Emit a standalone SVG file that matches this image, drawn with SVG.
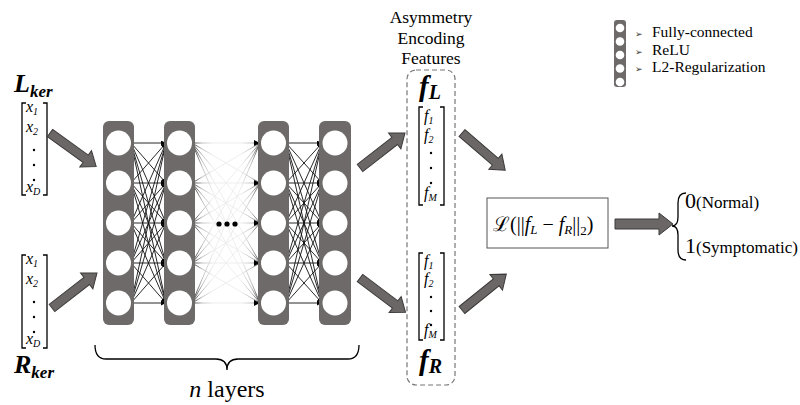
<svg xmlns="http://www.w3.org/2000/svg" width="800" height="405" viewBox="0 0 800 405">
<defs>
<style>
.serif{font-family:"Liberation Serif","DejaVu Serif",serif;fill:#000}
.it{font-style:italic}
.bi{font-style:italic;font-weight:bold}
.layer{fill:#6e6a6a}
.node{fill:#fff}
.blk{fill:#6b6767;stroke:#3d3a3a;stroke-width:1}
.br{fill:none;stroke:#000;stroke-width:1.3}
.cn{stroke:#111;stroke-width:0.9;fill:none}
.fc{stroke:url(#fade);stroke-width:0.9;fill:none}
.dot{fill:#000}
</style>
<marker id="ah" viewBox="0 0 6 6" refX="6" refY="3" markerWidth="5" markerHeight="5" orient="auto" markerUnits="userSpaceOnUse">
<path d="M0,0 L6,3 L0,6 z" fill="#000"/>
</marker>
<linearGradient id="fade" gradientUnits="userSpaceOnUse" x1="192" y1="0" x2="262" y2="0">
<stop offset="0" stop-color="#111"/>
<stop offset="0.15" stop-color="#bbb"/>
<stop offset="0.3" stop-color="#ececec"/>
<stop offset="0.7" stop-color="#ececec"/>
<stop offset="0.85" stop-color="#bbb"/>
<stop offset="1" stop-color="#111"/>
</linearGradient>
<path id="barrow" d="M0,-4.5 L44,-4.5 L44,-10 L57,0 L44,10 L44,4.5 L0,4.5 z"/>
</defs>
<rect width="800" height="405" fill="#fff"/>

<g id="input-L">
<text class="serif bi" x="14" y="92" font-size="26">L<tspan font-size="17" dy="5">ker</tspan></text>
<path class="br" d="M26,103 L22,103 L22,195 L26,195 M43,103 L47,103 L47,195 L43,195"/>
<text class="serif it" x="26" y="112" font-size="16">x<tspan font-size="10" dy="3">1</tspan></text>
<text class="serif it" x="26" y="132" font-size="16">x<tspan font-size="10" dy="3">2</tspan></text>
<circle class="dot" cx="34" cy="150" r="1.2"/><circle class="dot" cx="34" cy="165" r="1.2"/><circle class="dot" cx="34" cy="180" r="1.2"/>
<text class="serif it" x="26" y="192" font-size="16">x<tspan font-size="10" dy="3">D</tspan></text>
</g>

<g id="input-R">
<path class="br" d="M26,255 L22,255 L22,348 L26,348 M43,255 L47,255 L47,348 L43,348"/>
<text class="serif it" x="26" y="264" font-size="16">x<tspan font-size="10" dy="3">1</tspan></text>
<text class="serif it" x="26" y="284" font-size="16">x<tspan font-size="10" dy="3">2</tspan></text>
<circle class="dot" cx="34" cy="302" r="1.2"/><circle class="dot" cx="34" cy="317" r="1.2"/><circle class="dot" cx="34" cy="332" r="1.2"/>
<text class="serif it" x="26" y="344" font-size="16">x<tspan font-size="10" dy="3">D</tspan></text>
<text class="serif bi" x="14" y="373" font-size="26">R<tspan font-size="17" dy="5">ker</tspan></text>
</g>

<g id="connectors">
<g class="cn" marker-end="url(#ah)">
<path d="M131,143 L166,143"/><path d="M131,143 L166,183"/><path d="M131,143 L166,223"/><path d="M131,143 L166,263"/><path d="M131,143 L166,303"/>
<path d="M131,183 L166,143"/><path d="M131,183 L166,183"/><path d="M131,183 L166,223"/><path d="M131,183 L166,263"/><path d="M131,183 L166,303"/>
<path d="M131,223 L166,143"/><path d="M131,223 L166,183"/><path d="M131,223 L166,223"/><path d="M131,223 L166,263"/><path d="M131,223 L166,303"/>
<path d="M131,263 L166,143"/><path d="M131,263 L166,183"/><path d="M131,263 L166,223"/><path d="M131,263 L166,263"/><path d="M131,263 L166,303"/>
<path d="M131,303 L166,143"/><path d="M131,303 L166,183"/><path d="M131,303 L166,223"/><path d="M131,303 L166,263"/><path d="M131,303 L166,303"/>
</g>
<g class="fc">
<path d="M192,143 L260,143"/><path d="M192,143 L260,183"/><path d="M192,143 L260,223"/><path d="M192,143 L260,263"/><path d="M192,143 L260,303"/>
<path d="M192,183 L260,143"/><path d="M192,183 L260,183"/><path d="M192,183 L260,223"/><path d="M192,183 L260,263"/><path d="M192,183 L260,303"/>
<path d="M192,223 L260,143"/><path d="M192,223 L260,183"/><path d="M192,223 L260,223"/><path d="M192,223 L260,263"/><path d="M192,223 L260,303"/>
<path d="M192,263 L260,143"/><path d="M192,263 L260,183"/><path d="M192,263 L260,223"/><path d="M192,263 L260,263"/><path d="M192,263 L260,303"/>
<path d="M192,303 L260,143"/><path d="M192,303 L260,183"/><path d="M192,303 L260,223"/><path d="M192,303 L260,263"/><path d="M192,303 L260,303"/>
</g>
<g fill="#000">
<circle cx="219" cy="224" r="2.6"/><circle cx="227" cy="224" r="2.6"/><circle cx="235" cy="224" r="2.6"/>
<path d="M254,140 L260,143 L254,146 z M254,180 L260,183 L254,186 z M254,220 L260,223 L254,226 z M254,260 L260,263 L254,266 z M254,300 L260,303 L254,306 z"/>
</g>
<g class="cn" marker-end="url(#ah)">
<path d="M286,143 L322,143"/><path d="M286,143 L322,183"/><path d="M286,143 L322,223"/><path d="M286,143 L322,263"/><path d="M286,143 L322,303"/>
<path d="M286,183 L322,143"/><path d="M286,183 L322,183"/><path d="M286,183 L322,223"/><path d="M286,183 L322,263"/><path d="M286,183 L322,303"/>
<path d="M286,223 L322,143"/><path d="M286,223 L322,183"/><path d="M286,223 L322,223"/><path d="M286,223 L322,263"/><path d="M286,223 L322,303"/>
<path d="M286,263 L322,143"/><path d="M286,263 L322,183"/><path d="M286,263 L322,223"/><path d="M286,263 L322,263"/><path d="M286,263 L322,303"/>
<path d="M286,303 L322,143"/><path d="M286,303 L322,183"/><path d="M286,303 L322,223"/><path d="M286,303 L322,263"/><path d="M286,303 L322,303"/>
</g>
<use href="#barrow" class="blk" transform="translate(50,133) rotate(35.9)"/>
<use href="#barrow" class="blk" transform="translate(52,308) rotate(-37.9)"/>
<use href="#barrow" class="blk" transform="translate(360,168) rotate(-37.9)"/>
<use href="#barrow" class="blk" transform="translate(360,278) rotate(37)"/>
<use href="#barrow" class="blk" transform="translate(462,133) rotate(40.7)"/>
<use href="#barrow" class="blk" transform="translate(462,310) rotate(-39)"/>
<path class="blk" d="M615,219 L659,219 L659,213 L673,224 L659,235 L659,229 L615,229 z"/>
</g>

<g id="layer1">
<rect class="layer" x="103" y="121" width="31" height="204" rx="6"/>
<circle class="node" cx="118.5" cy="143" r="12.5"/><circle class="node" cx="118.5" cy="183" r="12.5"/><circle class="node" cx="118.5" cy="223" r="12.5"/><circle class="node" cx="118.5" cy="263" r="12.5"/><circle class="node" cx="118.5" cy="303" r="12.5"/>
</g>
<g id="layer2">
<rect class="layer" x="164" y="121" width="31" height="204" rx="6"/>
<circle class="node" cx="179.5" cy="143" r="12.5"/><circle class="node" cx="179.5" cy="183" r="12.5"/><circle class="node" cx="179.5" cy="223" r="12.5"/><circle class="node" cx="179.5" cy="263" r="12.5"/><circle class="node" cx="179.5" cy="303" r="12.5"/>
</g>
<g id="layer3">
<rect class="layer" x="258" y="121" width="31" height="204" rx="6"/>
<circle class="node" cx="273.5" cy="143" r="12.5"/><circle class="node" cx="273.5" cy="183" r="12.5"/><circle class="node" cx="273.5" cy="223" r="12.5"/><circle class="node" cx="273.5" cy="263" r="12.5"/><circle class="node" cx="273.5" cy="303" r="12.5"/>
</g>
<g id="layer4">
<rect class="layer" x="319" y="121" width="32" height="204" rx="6"/>
<circle class="node" cx="335" cy="143" r="12.5"/><circle class="node" cx="335" cy="183" r="12.5"/><circle class="node" cx="335" cy="223" r="12.5"/><circle class="node" cx="335" cy="263" r="12.5"/><circle class="node" cx="335" cy="303" r="12.5"/>
</g>

<g id="n-layers">
<path class="br" d="M95,345 Q95,359 106,359 L216,359 Q227,359 227,370 Q227,359 238,359 L348,359 Q359,359 359,345"/>
<text class="serif" x="227" y="397" font-size="24" text-anchor="middle"><tspan font-style="italic">n</tspan> layers</text>
</g>

<g id="features">
<text class="serif" x="431" y="23" font-size="17.5" text-anchor="middle">Asymmetry</text>
<text class="serif" x="431" y="44" font-size="17.5" text-anchor="middle">Encoding</text>
<text class="serif" x="431" y="64" font-size="17.5" text-anchor="middle">Features</text>
<rect x="407" y="70" width="48" height="315" rx="9" fill="none" stroke="#777" stroke-width="1.2" stroke-dasharray="5,3"/>
<text class="serif bi" x="419" y="96" font-size="29">f<tspan font-size="20" dy="3">L</tspan></text>
<path class="br" d="M423,107 L419,107 L419,205 L423,205 M440,107 L444,107 L444,205 L440,205"/>
<text class="serif it" x="424" y="121" font-size="16">f<tspan font-size="10" dy="3">1</tspan></text>
<text class="serif it" x="424" y="140" font-size="16">f<tspan font-size="10" dy="3">2</tspan></text>
<circle class="dot" cx="431" cy="153" r="1.2"/><circle class="dot" cx="431" cy="168" r="1.2"/><circle class="dot" cx="431" cy="183" r="1.2"/>
<text class="serif it" x="424" y="198" font-size="16">f<tspan font-size="10" dy="3">M</tspan></text>
<path class="br" d="M423,253 L419,253 L419,340 L423,340 M440,253 L444,253 L444,340 L440,340"/>
<text class="serif it" x="424" y="266" font-size="16">f<tspan font-size="10" dy="3">1</tspan></text>
<text class="serif it" x="424" y="284" font-size="16">f<tspan font-size="10" dy="3">2</tspan></text>
<circle class="dot" cx="431" cy="297" r="1.2"/><circle class="dot" cx="431" cy="311" r="1.2"/><circle class="dot" cx="431" cy="325" r="1.2"/>
<text class="serif it" x="424" y="335" font-size="16">f<tspan font-size="10" dy="3">M</tspan></text>
<text class="serif bi" x="419" y="370" font-size="29">f<tspan font-size="20" dy="3">R</tspan></text>
</g>

<g id="loss">
<rect x="487" y="198" width="121" height="50" fill="#fff" stroke="#555" stroke-width="1"/>
<text class="serif" x="493" y="231" font-size="20">ℒ(||<tspan font-style="italic">f</tspan><tspan font-size="13" dy="3" font-style="italic">L</tspan><tspan dy="-3"> − </tspan><tspan font-style="italic">f</tspan><tspan font-size="13" dy="3" font-style="italic">R</tspan><tspan dy="-3">||</tspan><tspan font-size="13" dy="4">2</tspan><tspan dy="-4">)</tspan></text>
</g>

<g id="output">
<path class="br" d="M686,193 Q678,193 678,203 L678,217 Q678,226 672,226 Q678,226 678,235 L678,250 Q678,260 686,260" stroke-width="1.6"/>
<text class="serif" x="685" y="208" font-size="22">0<tspan font-size="17">(Normal)</tspan></text>
<text class="serif" x="685" y="253" font-size="22">1<tspan font-size="17">(Symptomatic)</tspan></text>
</g>

<g id="legend">
<rect x="614" y="20" width="12" height="67" rx="3" fill="#6e6a6a"/>
<circle cx="620" cy="28" r="4.3" fill="#fff"/><circle cx="620" cy="41.5" r="4.3" fill="#fff"/><circle cx="620" cy="55" r="4.3" fill="#fff"/><circle cx="620" cy="68.5" r="4.3" fill="#fff"/><circle cx="620" cy="82" r="4.3" fill="#fff"/>
<text x="635" y="37" font-size="9" font-family="DejaVu Sans, sans-serif" fill="#333">➢</text>
<text x="635" y="55" font-size="9" font-family="DejaVu Sans, sans-serif" fill="#333">➢</text>
<text x="635" y="72" font-size="9" font-family="DejaVu Sans, sans-serif" fill="#333">➢</text>
<text class="serif" x="652" y="37" font-size="15.5">Fully-connected</text>
<text class="serif" x="652" y="55" font-size="15.5">ReLU</text>
<text class="serif" x="652" y="72" font-size="15.5">L2-Regularization</text>
</g>
</svg>
